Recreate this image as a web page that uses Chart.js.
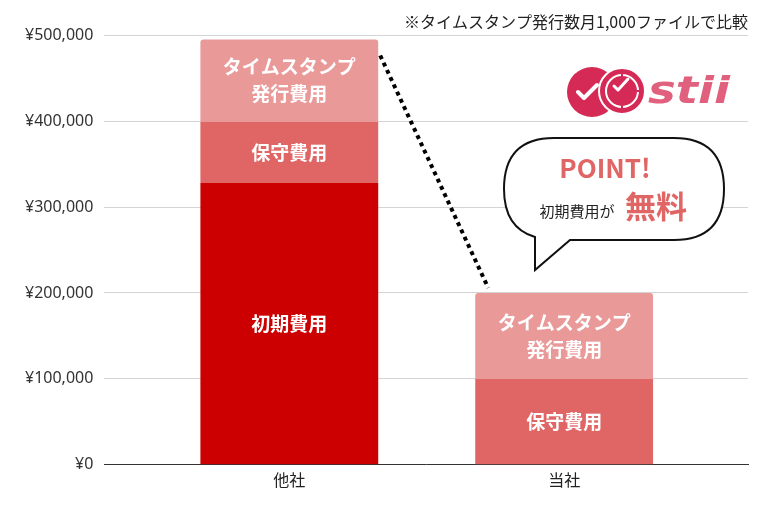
<!DOCTYPE html>
<html lang="ja">
<head>
<meta charset="utf-8">
<script src="https://cdn.jsdelivr.net/npm/chart.js@4"></script>
<style>
  html, body { margin: 0; padding: 0; background: #fff; }
  #wrap { width: 776px; height: 516px; }
</style>
</head>
<body>
<div id="wrap"><canvas id="chart"></canvas></div>
<script>
// 比較対象と費用の内訳
const categories = ['他社', '当社'];
const initialCost = [328000, 0];       // 初期費用
const maintenanceCost = [71000, 100000]; // 保守費用
const timestampCost = [96000, 100000];   // タイムスタンプ発行費用
const seriesNames = ['初期費用', '保守費用', 'タイムスタンプ発行費用'];
const seriesLines = [['初期費用'], ['保守費用'], ['タイムスタンプ', '発行費用']];
const yTicks = [0, 100000, 200000, 300000, 400000, 500000];
const note = '※タイムスタンプ発行数月1,000ファイルで比較';

const JP = "'Noto Sans CJK JP', 'Noto Sans', sans-serif";

// 棒の中に白文字で項目名
const barLabels = {
  id: 'barLabels',
  afterDatasetsDraw(chart) {
    const ctx = chart.ctx;
    ctx.save();
    ctx.fillStyle = '#fff';
    ctx.font = 'bold 19px ' + JP;
    ctx.textAlign = 'center';
    ctx.textBaseline = 'middle';
    chart.data.datasets.forEach((ds, i) => {
      chart.getDatasetMeta(i).data.forEach((bar, j) => {
        if (!ds.data[j].y) return;
        const lines = seriesLines[i];
        const mid = (bar.y + bar.base) / 2;
        lines.forEach((t, k) => {
          ctx.fillText(t, bar.x, mid + (k - (lines.length - 1) / 2) * 27);
        });
      });
    });
    ctx.restore();
  }
};

// 点線・吹き出し・ロゴ
const extras = {
  id: 'extras',
  afterDraw(chart) {
    const ctx = chart.ctx;
    const last = chart.data.datasets.length - 1;
    const b1 = chart.getDatasetMeta(last).data[0];
    const b2 = chart.getDatasetMeta(last).data[1];
    ctx.save();

    // 点線
    ctx.strokeStyle = '#000';
    ctx.lineWidth = 4;
    ctx.setLineDash([4, 4]);
    ctx.beginPath();
    ctx.moveTo(b1.x + b1.width / 2 + 2, b1.y + 16);
    ctx.lineTo(b2.x - b2.width / 2 + 13, b2.y - 5);
    ctx.stroke();
    ctx.setLineDash([]);

    // 吹き出し
    ctx.lineWidth = 2;
    ctx.strokeStyle = '#111';
    ctx.fillStyle = '#fff';
    const x0 = 504, y0 = 138, x1 = 724, y1 = 240, r = 50;
    ctx.beginPath();
    ctx.moveTo(x0 + r, y0);
    ctx.lineTo(x1 - r, y0);
    ctx.quadraticCurveTo(x1, y0, x1, (y0 + y1) / 2);
    ctx.quadraticCurveTo(x1, y1, x1 - r, y1);
    ctx.lineTo(570, y1);
    ctx.lineTo(535, 270);
    ctx.lineTo(535, y1 - 3);
    ctx.quadraticCurveTo(x0, y1 - 12, x0, (y0 + y1) / 2);
    ctx.quadraticCurveTo(x0, y0, x0 + r, y0);
    ctx.closePath();
    ctx.fill();
    ctx.stroke();

    ctx.textBaseline = 'middle';
    ctx.textAlign = 'center';
    ctx.fillStyle = '#e06666';
    ctx.font = 'bold 26px ' + JP;
    ctx.fillText('POINT!', 605, 168);
    ctx.fillStyle = '#222';
    ctx.font = '15px ' + JP;
    ctx.fillText('初期費用が', 577, 211);
    ctx.fillStyle = '#e06666';
    ctx.font = 'bold 31px ' + JP;
    ctx.fillText('無料', 656, 206);

    // ロゴ
    const red = '#d42a55';
    ctx.fillStyle = red;
    ctx.beginPath(); ctx.arc(592, 92, 25, 0, Math.PI * 2); ctx.fill();
    ctx.strokeStyle = '#fff';
    ctx.lineWidth = 2;
    ctx.beginPath(); ctx.arc(622, 91, 23, 0, Math.PI * 2); ctx.fill(); ctx.stroke();
    ctx.beginPath(); ctx.arc(622, 91, 16, 0, Math.PI * 2); ctx.stroke();
    ctx.strokeStyle = red;
    ctx.lineWidth = 2;
    [[0, -1], [1, 0], [0, 1]].forEach(([dx, dy]) => {
      ctx.beginPath();
      ctx.moveTo(622 + dx * 12, 91 + dy * 12);
      ctx.lineTo(622 + dx * 19, 91 + dy * 19);
      ctx.stroke();
    });
    ctx.strokeStyle = '#fff';
    ctx.lineCap = 'round';
    ctx.lineJoin = 'round';
    ctx.lineWidth = 4;
    ctx.beginPath(); ctx.moveTo(578, 92); ctx.lineTo(584, 98); ctx.lineTo(597, 85); ctx.stroke();
    ctx.lineWidth = 3;
    ctx.beginPath(); ctx.moveTo(614, 86); ctx.lineTo(618, 90); ctx.lineTo(628, 79); ctx.stroke();

    ctx.fillStyle = '#e0607e';
    ctx.font = "italic bold 38px 'DejaVu Sans', sans-serif";
    ctx.textAlign = 'left';
    ctx.textBaseline = 'alphabetic';
    const w = ctx.measureText('stii').width;
    ctx.translate(648, 103);
    ctx.scale(82 / w, 1);
    ctx.fillText('stii', 0, 0);
    ctx.restore();
  }
};

const toPoints = arr => arr.map((v, i) => ({ x: i, y: v }));

new Chart(document.getElementById('chart'), {
  type: 'bar',
  data: {
    datasets: [
      { label: seriesNames[0], data: toPoints(initialCost), backgroundColor: '#cc0000' },
      { label: seriesNames[1], data: toPoints(maintenanceCost), backgroundColor: '#e06666' },
      { label: seriesNames[2], data: toPoints(timestampCost), backgroundColor: '#ea9999',
        borderRadius: { topLeft: 3, topRight: 3 }, borderSkipped: false }
    ]
  },
  options: {
    responsive: true,
    maintainAspectRatio: false,
    animation: false,
    categoryPercentage: 1,
    barPercentage: 0.647,
    layout: { padding: { left: 14, right: 28, bottom: 20 } },
    plugins: {
      legend: { display: false },
      tooltip: { enabled: false },
      title: {
        display: true,
        text: note,
        align: 'end',
        color: '#222',
        font: { family: JP, size: 16, weight: 'normal' },
        padding: { top: 12, bottom: 4 }
      }
    },
    scales: {
      x: {
        type: 'linear',
        stacked: true,
        offset: false,
        min: -0.673,
        max: 1.669,
        afterBuildTicks: axis => { axis.ticks = categories.map((c, i) => ({ value: i })); },
        ticks: {
          callback: v => categories[v] ?? '',
          color: '#222',
          font: { family: JP, size: 16 },
          padding: 6
        },
        grid: { display: false, drawTicks: false },
        border: { display: true, color: '#333', width: 1 }
      },
      y: {
        stacked: true,
        min: 0,
        max: 500000,
        afterBuildTicks: axis => { axis.ticks = yTicks.map(v => ({ value: v })); },
        ticks: {
          callback: v => '¥' + v.toLocaleString('en-US'),
          color: '#333',
          font: { family: "'Noto Sans', sans-serif", size: 16 },
          padding: 11
        },
        grid: { color: '#d4d4d4', drawTicks: false },
        border: { display: false }
      }
    }
  },
  plugins: [barLabels, extras]
});
</script>
</body>
</html>
